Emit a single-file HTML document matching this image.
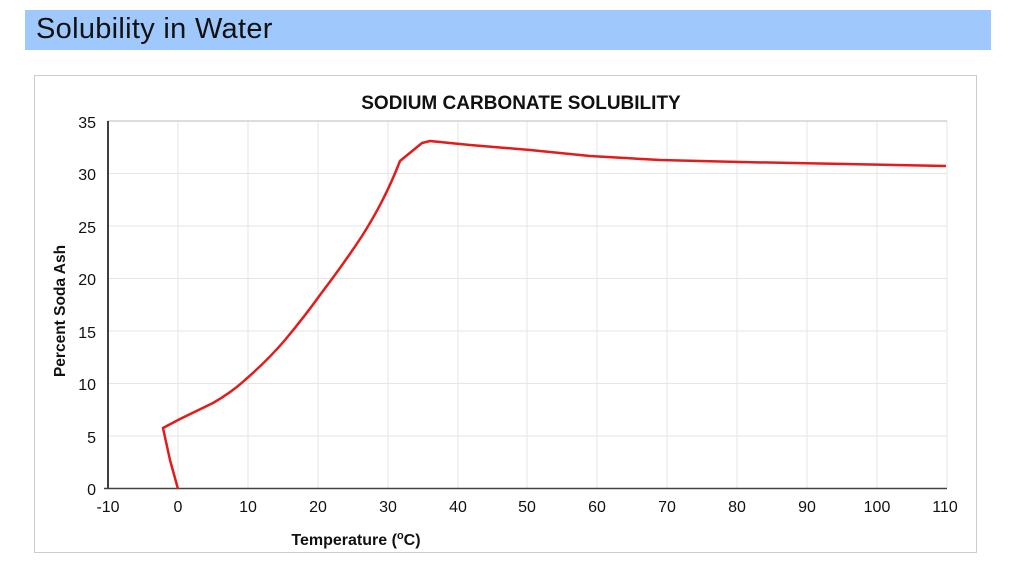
<!DOCTYPE html>
<html><head><style>
body{margin:0;width:1018px;height:572px;background:#fff;overflow:hidden;font-family:"Liberation Sans",sans-serif}
.ban{position:absolute;left:25px;top:10px;width:966px;height:40px;background:#9fc9fd}
.ban span{position:absolute;left:11px;top:3px;font-size:29px;color:#111;letter-spacing:0.3px}
</style></head><body>
<div class="ban"><span>Solubility in Water</span></div>
<svg style="position:absolute;left:0;top:0" width="1018" height="572">
<rect x="34.5" y="75.5" width="942" height="477" fill="#fff" stroke="#ccc"/>
<text x="521" y="109" font-size="19" font-weight="bold" text-anchor="middle" fill="#111">SODIUM CARBONATE SOLUBILITY</text>
<g stroke="#e6e6e6" stroke-width="1">
<line x1="178" y1="121" x2="178" y2="488"/><line x1="248" y1="121" x2="248" y2="488"/><line x1="318" y1="121" x2="318" y2="488"/><line x1="388" y1="121" x2="388" y2="488"/><line x1="458" y1="121" x2="458" y2="488"/><line x1="527" y1="121" x2="527" y2="488"/><line x1="597" y1="121" x2="597" y2="488"/><line x1="667" y1="121" x2="667" y2="488"/><line x1="737" y1="121" x2="737" y2="488"/><line x1="807" y1="121" x2="807" y2="488"/><line x1="877" y1="121" x2="877" y2="488"/><line x1="947" y1="121" x2="947" y2="488"/>
<line x1="108" y1="173.5" x2="947" y2="173.5"/><line x1="108" y1="226" x2="947" y2="226"/><line x1="108" y1="278.5" x2="947" y2="278.5"/><line x1="108" y1="331" x2="947" y2="331"/><line x1="108" y1="383.5" x2="947" y2="383.5"/><line x1="108" y1="436" x2="947" y2="436"/>
</g>
<line x1="108" y1="121" x2="947" y2="121" stroke="#bbb"/>
<line x1="108" y1="121" x2="108" y2="489" stroke="#000" stroke-width="1.5"/>
<line x1="104" y1="488.5" x2="947" y2="488.5" stroke="#444" stroke-width="1.5"/>
<g font-size="16" fill="#111" text-anchor="end">
<text x="96" y="128">35</text><text x="96" y="180">30</text><text x="96" y="233">25</text><text x="96" y="285">20</text><text x="96" y="338">15</text><text x="96" y="390">10</text><text x="96" y="443">5</text><text x="96" y="495">0</text>
</g>
<g font-size="16" fill="#111" text-anchor="middle">
<text x="108" y="512">-10</text><text x="178" y="512">0</text><text x="248" y="512">10</text><text x="318" y="512">20</text><text x="388" y="512">30</text><text x="458" y="512">40</text><text x="527" y="512">50</text><text x="597" y="512">60</text><text x="667" y="512">70</text><text x="737" y="512">80</text><text x="807" y="512">90</text><text x="877" y="512">100</text><text x="945" y="512">110</text>
</g>
<text x="356" y="545" font-size="16" font-weight="bold" text-anchor="middle" fill="#111">Temperature (<tspan font-size="11" dy="-6">o</tspan><tspan dy="6">C)</tspan></text>
<text transform="translate(65,311) rotate(-90)" font-size="15.5" font-weight="bold" text-anchor="middle" fill="#111">Percent Soda Ash</text>
<path d="M178,489 L170,460 L163,428 L180,419 L213,403 Q232,392 245,380 Q268,360 285,340 Q305,316 320,295 Q345,262 362,236 Q385,200 400,161 L422,143 L430,141 L470,145 L530,150 L590,156 L660,160 L740,162 L946,166" fill="none" stroke="#e31b1b" stroke-width="2.5" stroke-linejoin="round"/>
</svg>
</body></html>
